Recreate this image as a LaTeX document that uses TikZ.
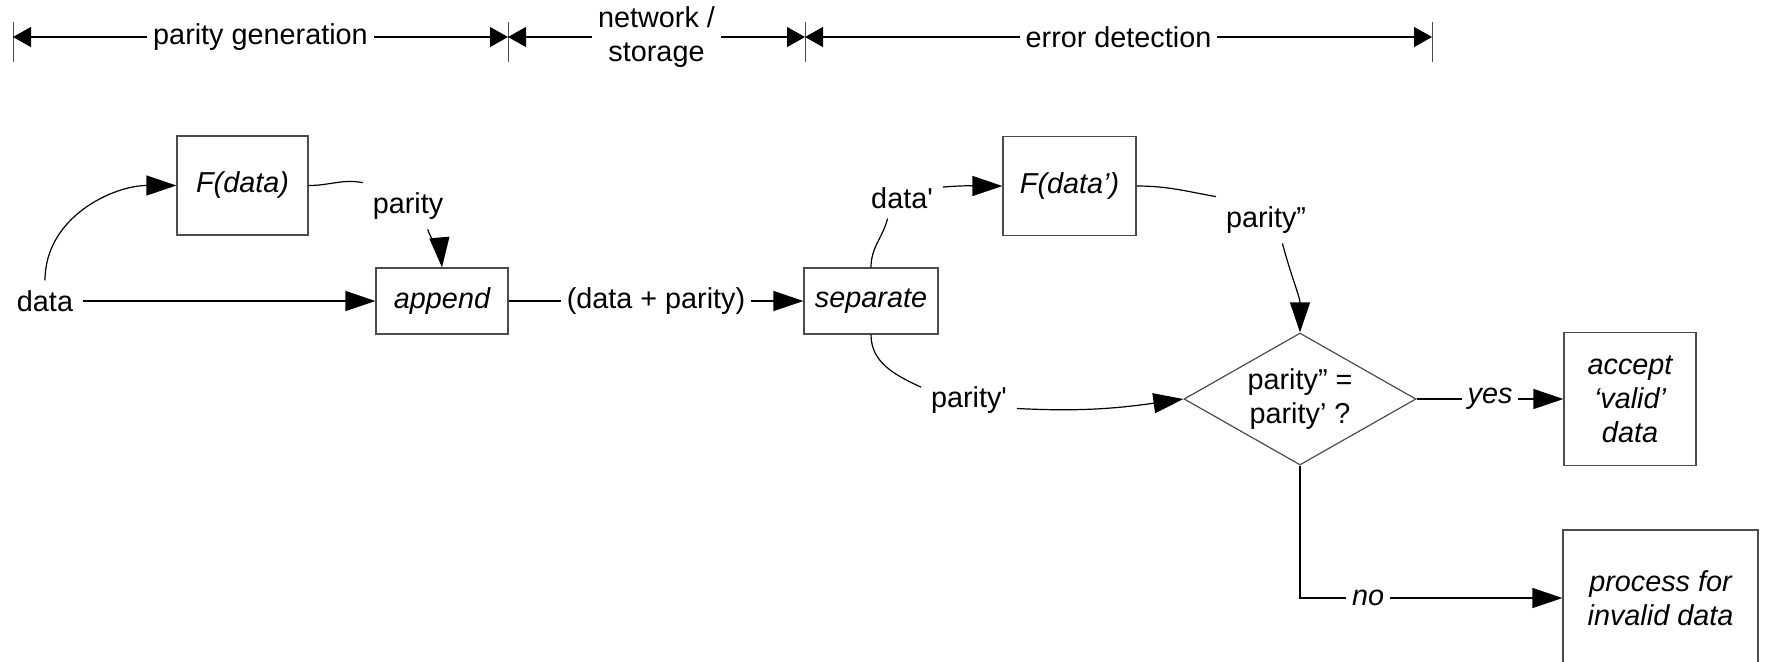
\documentclass[tikz,border=0pt]{standalone}
\usepackage{fontspec}
\setmainfont{Liberation Sans}
\usetikzlibrary{arrows.meta,shapes.geometric}
\definecolor{LineClr}{rgb}{0,0,0}
\definecolor{BoxClr}{rgb}{0.3,0.3,0.3}

\begin{document}
\fontsize{14.4}{17}\selectfont
\begin{tikzpicture}[x=0.5pt,y=0.5pt,
  box/.style={draw=BoxClr,line width=0.6pt,font=\itshape,align=center,inner sep=0pt},
  decide/.style={draw=BoxClr,line width=0.6pt,diamond,aspect=1.76,align=center,inner sep=0pt},
  conn/.style={draw=LineClr,line width=0.6pt,-{Triangle[length=15pt,width=10pt]}},
  link/.style={draw=LineClr,line width=0.6pt},
  lbl/.style={inner sep=4.8pt},
  onlbl/.style={fill=white,inner sep=3pt},
  dim/.style={draw=LineClr,line width=0.6pt,{Triangle[length=9pt,width=10pt]}-{Triangle[length=9pt,width=10pt]}},
  tick/.style={draw=BoxClr,line width=0.5pt}]
\useasboundingbox (0,0) rectangle (1765,-661);

% spans along the top
\coordinate (T0) at (13,-37);
\coordinate (T1) at (508,-37);
\coordinate (T2) at (805,-37);
\coordinate (T3) at (1432,-37);
\foreach \t in {T0,T1,T2,T3}
  \draw[tick] ([yshift=7.5pt]\t) -- ([yshift=-12.5pt]\t);
\draw[dim] (T0) -- node[onlbl] {parity generation} (T1);
\draw[dim] (T1) -- node[onlbl,align=center] {network /\\storage} (T2);
\draw[dim] (T2) -- node[onlbl] {error detection} (T3);

% blocks
\node[box,minimum width=65.5pt,minimum height=49.5pt] (F) at (242.5,-185.5) {F(data)};
\node[box,minimum width=66pt,minimum height=33pt] (Ap) at (442,-301) {append};
\node[box,minimum width=67pt,minimum height=33pt] (Sp) at (871,-301) {separate};
\node[box,minimum width=66.5pt,minimum height=49.5pt] (Fp) at (1069.5,-186) {F(data’)};
\node[decide,minimum width=116pt,minimum height=66pt] (Q) at (1300,-399) {parity” =\\parity’ ?};
\node[box,minimum width=66pt,minimum height=66.5pt] (Ok) at (1630,-399) {accept\\‘valid’\\data};
\node[box,minimum width=97.5pt,minimum height=68pt] (Bad) at (1660.5,-598) {process for\\invalid data};

% free labels
\node[lbl] (In) at (45,-301) {data};
\node[lbl] (P) at (408,-206) {parity};
\node[lbl] (Dp) at (902,-198) {data\textquotesingle};
\node[lbl] (Ppp) at (1266,-220) {parity”};
\node[lbl] (Pp) at (969,-400) {parity\textquotesingle};

\draw[conn] (In) -- (Ap);
\draw[conn] (In.north) to[out=90,in=180] (F.west);
\draw[link] (F.east) to[out=0,in=170] (P.north west);
\draw[conn] (P.-50) to[out=-70,in=95] (Ap.north);
\draw[conn] (Ap) -- node[onlbl] {(data + parity)} (Sp);

\draw[link] (Sp.north) to[out=90,in=-105] (Dp.-125);
\draw[conn] (Dp.15) to[out=5,in=180] (Fp.west);
\draw[link] (Fp.east) to[out=0,in=170] (Ppp.north west);
\draw[conn] (Ppp.-55) to[out=-75,in=90] (Q.north);
\draw[link] (Sp.south) to[out=-90,in=155] (Pp.165);
\draw[conn] (Pp.-10) to[out=-3,in=188] (Q.west);

\draw[conn] (Q) -- node[onlbl,font=\itshape] {yes} (Ok);
\draw[conn] (Q.south) |- node[onlbl,font=\itshape,pos=0.63] {no} (Bad.west);
\end{tikzpicture}
\end{document}
